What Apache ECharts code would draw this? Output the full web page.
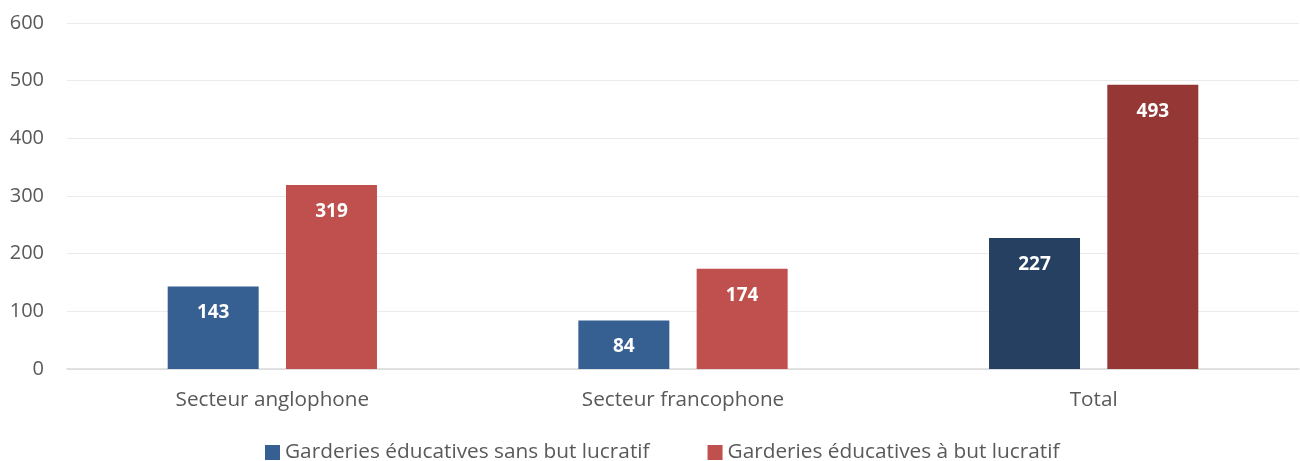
<!DOCTYPE html>
<html>
<head>
<meta charset="utf-8">
<script src="https://cdn.jsdelivr.net/npm/echarts@6/dist/echarts.min.js"></script>
<style>html,body{margin:0;padding:0;background:#fff}#c{width:1300px;height:461px}</style>
</head>
<body>
<div id="c"></div>
<script>
const categories = ['Secteur anglophone', 'Secteur francophone', 'Total'];
const seriesNames = ['Garderies éducatives sans but lucratif', 'Garderies éducatives à but lucratif'];
const nonProfit = [143, 84, 227];
const forProfit = [319, 174, 493];
const yTicks = [0, 100, 200, 300, 400, 500, 600];

const blue = '#376092', blueDark = '#254061';
const red = '#C0504D', redDark = '#953735';

function items(vals, base, totalColor) {
  return vals.map((v, i) => ({
    value: v,
    itemStyle: { color: categories[i] === 'Total' ? totalColor : base }
  }));
}

const labelStyle = {
  show: true, position: 'insideTop', distance: 17,
  color: '#fff', fontWeight: 'bold', fontSize: 19, fontFamily: 'Open Sans'
};

const chart = echarts.init(document.getElementById('c'), null, { renderer: 'canvas' });
chart.setOption({
  animation: false,
  textStyle: { fontFamily: 'Open Sans' },
  grid: { left: 67, right: 1, top: 23, bottom: 92, containLabel: false },
  legend: {
    top: 442, left: 265, padding: 0,
    itemWidth: 15, itemHeight: 15, itemGap: 58,
    icon: 'rect',
    textStyle: { fontSize: 20.8, color: '#595959', fontFamily: 'Open Sans' },
    data: [
      { name: seriesNames[0], itemStyle: { color: blue } },
      { name: seriesNames[1], itemStyle: { color: red } }
    ]
  },
  xAxis: {
    type: 'category', data: categories,
    axisLine: { lineStyle: { color: '#D9D9D9', width: 1.5 } },
    axisTick: { show: false },
    axisLabel: { fontSize: 20.7, color: '#595959', margin: 21 }
  },
  yAxis: {
    type: 'value', min: yTicks[0], max: yTicks[yTicks.length - 1], interval: 100,
    axisLine: { show: false }, axisTick: { show: false },
    splitLine: { lineStyle: { color: '#EBEBEB', width: 1 } },
    axisLabel: { fontSize: 20, color: '#595959', margin: 23 }
  },
  series: [
    { name: seriesNames[0], type: 'bar', barWidth: 91, barGap: '30%',
      data: items(nonProfit, blue, blueDark), label: labelStyle, itemStyle: { color: blue } },
    { name: seriesNames[1], type: 'bar', barWidth: 91,
      data: items(forProfit, red, redDark), label: labelStyle, itemStyle: { color: red } }
  ]
});
</script>
</body>
</html>
